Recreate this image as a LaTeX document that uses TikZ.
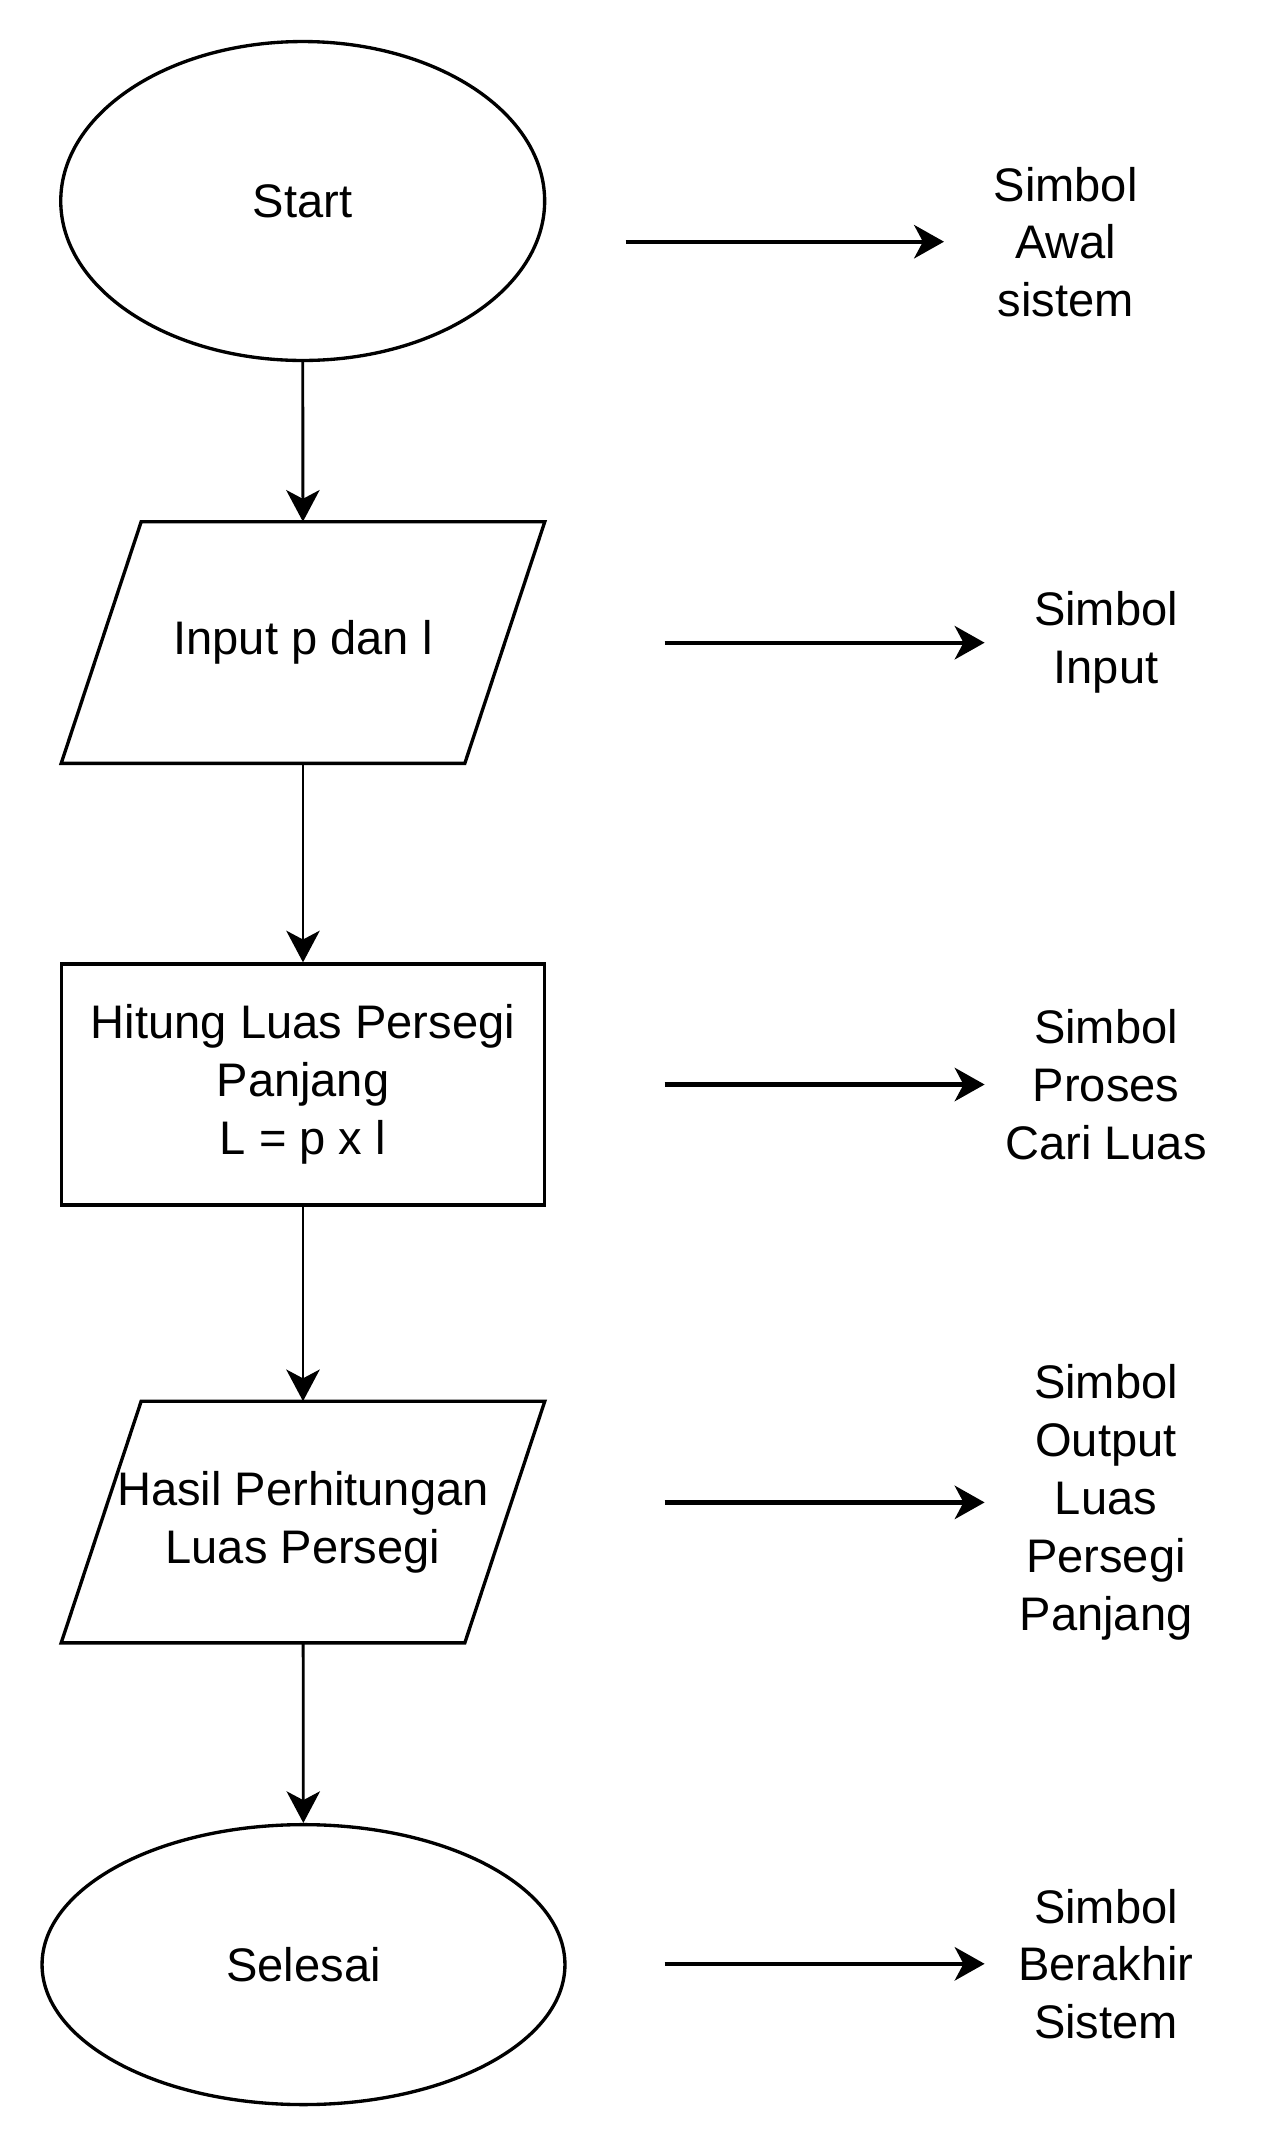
\documentclass[tikz,border=0pt]{standalone}
\usepackage{fontspec}
\setmainfont{Liberation Sans}
\usetikzlibrary{shapes,arrows.meta}

\begin{document}
\begin{tikzpicture}[x=0.02cm,y=-0.02cm]
	\tikzstyle{every node}=[font=\fontsize{26.8pt}{32.9pt}\selectfont]
	\tikzstyle{terminal}=[ellipse,draw,line width=1.9pt,inner sep=0pt]
	\tikzstyle{io}=[rectangle,minimum width=9.66cm,minimum height=4.82cm,
	align=center,inner sep=0pt]
	\tikzstyle{proses}=[rectangle,draw,line width=1.9pt,minimum width=9.66cm,
	minimum height=4.82cm,align=center,inner sep=0pt]
	\tikzstyle{ket}=[align=center,inner sep=0pt]

	\useasboundingbox (0,0) rectangle (1264,2148);

	\node[terminal,minimum width=9.68cm,minimum height=6.38cm] (mulai) at
	(302.7,201) {Start};
	\node[io] (input) at (303,642.5) {Input p dan l};
	\node[proses] (hitung) at (303,1084.5) {Hitung Luas Persegi\\Panjang\\
	L = p x l};
	\node[io] (output) at (303,1522) {Hasil Perhitungan\\Luas Persegi};
	\node[terminal,minimum width=10.46cm,minimum height=5.6cm] (selesai) at
	(303.5,1964.6) {Selesai};

	% bentuk jajar genjang untuk input/output
	\foreach \n in {input,output}
		\draw[line width=1.9pt,line join=miter] ([xshift=1.6cm]\n.north west) --
		(\n.north east) -- ([xshift=-1.6cm]\n.south east) -- (\n.south west)
		-- cycle;

	\node[ket] (k1) at (1065.6,242) {Simbol\\Awal\\sistem};
	\node[ket] (k2) at (1106,642.5) {Simbol\\Input};
	\node[ket] (k3) at (1106,1084.5) {Simbol\\Proses\\Cari Luas};
	\node[ket] (k4) at (1106,1502.4) {Simbol\\Output\\Luas\\Persegi\\Panjang};
	\node[ket] (k5) at (1106,1964) {Simbol\\Berakhir\\Sistem};

	\coordinate (p1) at (625.6,241.7);  \coordinate (q1) at (944,241.7);
	\coordinate (p2) at (664.5,642.7);  \coordinate (q2) at (984.6,642.7);
	\coordinate (p3) at (664.5,1084.5); \coordinate (q3) at (984.6,1084.5);
	\coordinate (p4) at (664.5,1502.4); \coordinate (q4) at (984.6,1502.4);
	\coordinate (p5) at (664.5,1963.8); \coordinate (q5) at (984.6,1963.8);

	\tikzstyle{alur}=[-{Stealth[length=18pt,width=19pt,inset=5pt]},line width=1.6pt]
	\tikzstyle{tunjuk}=[-{Stealth[length=17pt,width=19pt,inset=5pt]},line width=2.4pt]

	\draw[alur] (mulai) -- (input);
	\draw[alur] (input) -- (hitung);
	\draw[alur] (hitung) -- (output);
	\draw[alur] (output) -- (selesai);

	\draw[tunjuk] (p1) -- (q1);
	\draw[tunjuk] (p2) -- (q2);
	\draw[tunjuk] (p3) -- (q3);
	\draw[tunjuk] (p4) -- (q4);
	\draw[tunjuk] (p5) -- (q5);
\end{tikzpicture}
\end{document}
